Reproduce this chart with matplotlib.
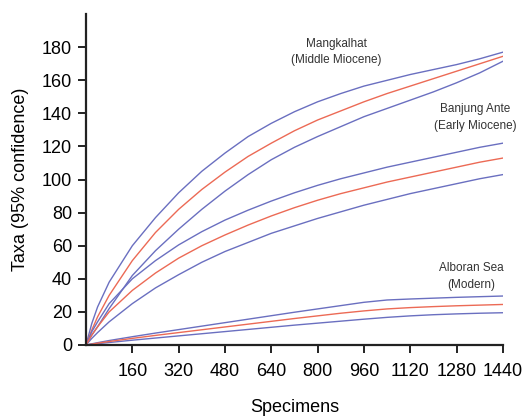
import matplotlib
matplotlib.use("Agg")
import matplotlib.pyplot as plt

plt.rcParams['font.family'] = ['Liberation Sans', 'DejaVu Sans']

# specimens at which the curves were read
specimens = [0, 20, 40, 80, 160, 240, 320, 400, 480, 560, 640, 720, 800,
             880, 960, 1040, 1120, 1200, 1280, 1360, 1440]

# Mangkalhat (Middle Miocene)
mang_hi = [0, 13, 23, 38, 60, 77, 92, 105, 116, 126, 134, 141, 147,
           152, 156.5, 160, 163.5, 166.5, 169.5, 173, 177]
mang_mid = [0, 9, 17, 30, 51, 68, 82, 94, 104.5, 114, 122, 129.5, 136,
            141.5, 147, 152, 156.5, 161, 165.5, 170, 174.5]
mang_lo = [0, 6, 11, 22, 42, 57, 70, 82, 93, 103, 112, 119.5, 126,
           132, 138, 143, 148, 153, 158.5, 164.5, 171.5]

# Banjung Ante (Early Miocene)
banj_hi = [0, 8, 14, 25, 40, 51, 60.5, 68.5, 75.5, 81.5, 87, 92, 96.5,
           100.5, 104, 107.5, 110.5, 113.5, 116.5, 119.5, 122]
banj_mid = [0, 6, 11, 20, 33, 43.5, 52.5, 60, 66.5, 72.5, 78, 83, 87.5,
            91.5, 95, 98.5, 101.5, 104.5, 107.5, 110.5, 113]
banj_lo = [0, 4, 7.5, 14, 25, 34.5, 42.5, 50, 56.5, 62, 67.5, 72, 76.5,
           80.5, 84.5, 88, 91.5, 94.5, 97.5, 100.5, 103]

# Alboran Sea (Modern)
albo_hi = [0, 0.7, 1.4, 2.7, 5, 7.2, 9.3, 11.4, 13.5, 15.6, 17.7, 19.8, 21.8,
           23.8, 25.8, 27.2, 27.8, 28.3, 28.8, 29.2, 29.6]
albo_mid = [0, 0.5, 1.1, 2.1, 4, 5.8, 7.5, 9.2, 10.9, 12.6, 14.3, 16, 17.6,
            19.2, 20.6, 21.8, 22.6, 23.2, 23.7, 24.1, 24.5]
albo_lo = [0, 0.4, 0.8, 1.5, 2.9, 4.2, 5.5, 6.8, 8.1, 9.4, 10.7, 12, 13.2,
           14.4, 15.6, 16.7, 17.6, 18.3, 18.8, 19.2, 19.5]

xticks = [160, 320, 480, 640, 800, 960, 1120, 1280, 1440]
yticks = list(range(0, 181, 20))

blue = '#6a6fc0'
red = '#ec6a55'

fig = plt.figure(figsize=(5.26, 4.16), dpi=100)
ax = fig.add_axes([0.1635, 0.1707, 0.7925, 0.7953])

for hi, mid, lo in [(mang_hi, mang_mid, mang_lo),
                    (banj_hi, banj_mid, banj_lo),
                    (albo_hi, albo_mid, albo_lo)]:
    ax.plot(specimens, hi, color=blue, lw=1.0)
    ax.plot(specimens, lo, color=blue, lw=1.0)
    ax.plot(specimens, mid, color=red, lw=1.0)

ax.set_xlim(0, 1440)
ax.set_ylim(0, 200)
ax.set_xticks(xticks)
ax.set_yticks(yticks)
ax.tick_params(labelsize=13, length=6, width=1.4, color='#222', pad=4)
ax.tick_params(axis='x', pad=7)

for side in ['top', 'right']:
    ax.spines[side].set_visible(False)
for side in ['left', 'bottom']:
    ax.spines[side].set_linewidth(1.6)
    ax.spines[side].set_color('#222')

ax.set_xlabel('Specimens', fontsize=13, labelpad=14)
ax.set_ylabel('Taxa (95% confidence)', fontsize=13, labelpad=9)

lbl = dict(fontsize=8.5, color='#333', ha='center', va='center', linespacing=1.5)
ax.text(866, 177, 'Mangkalhat\n(Middle Miocene)', **lbl)
ax.text(1345, 137.5, 'Banjung Ante\n(Early Miocene)', **lbl)
ax.text(1331, 41.5, 'Alboran Sea\n(Modern)', **lbl)

fig.savefig('out.png', dpi=100)
